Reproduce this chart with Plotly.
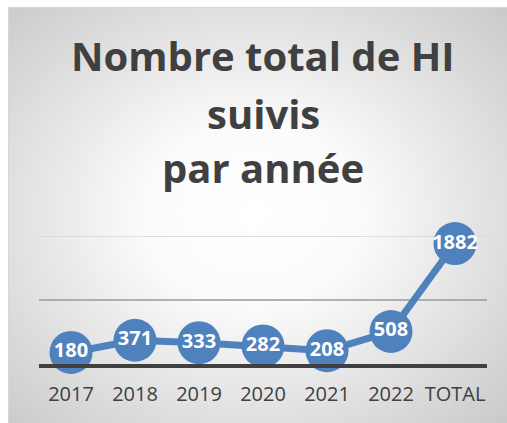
import base64
import plotly.graph_objects as go

categories = ["2017", "2018", "2019", "2020", "2021", "2022", "TOTAL"]
values = [180, 371, 333, 282, 208, 508, 1882]
title_lines = ["Nombre total de HI", "suivis", "par année"]

BLUE = "#4f81bd"
DARK = "#404040"

# figure pixels == screen pixels (body margin removed)
W, H = 507, 423
L, R, T, B = 39, 20, 236, 59
PH = H - T - B
PW = W - L - R
FX0, FY0 = 8, 7  # chart frame top-left


def fy(py):
    return (H - B - py) / PH


def fx(px):
    return (px - L) / PW


FW, FH = W - FX0, H - FY0
svg = f"""<svg xmlns='http://www.w3.org/2000/svg' width='{FW}' height='{FH}' viewBox='0 0 {FW} {FH}' preserveAspectRatio='none'>
<defs><radialGradient id='g' cx='49%' cy='50%' r='72%'>
<stop offset='0' stop-color='#ffffff'/>
<stop offset='0.3' stop-color='#fbfbfb'/>
<stop offset='1' stop-color='#c9c9c9'/>
</radialGradient></defs>
<rect x='0' y='0' width='{FW}' height='{FH}' fill='url(#g)'/>
<line x1='0.5' y1='0' x2='0.5' y2='{FH}' stroke='#d6d6d6' stroke-width='1'/>
<line x1='0' y1='0.5' x2='{FW}' y2='0.5' stroke='#d6d6d6' stroke-width='1'/>
</svg>"""
src = "data:image/svg+xml;base64," + base64.b64encode(svg.encode()).decode()

fig = go.Figure()
fig.add_trace(go.Scatter(
    x=categories, y=values,
    mode="lines+markers+text",
    line=dict(color=BLUE, width=7),
    marker=dict(color=BLUE, size=43),
    text=[str(v) for v in values],
    textposition="middle center",
    textfont=dict(color="white", size=20, family="Open Sans", weight="bold"),
    cliponaxis=False,
    hoverinfo="skip",
))

fig.add_hline(y=1000, line=dict(color="#9a9a9a", width=1.5), layer="below")
fig.add_hline(y=2000, line=dict(color="#d4d4d4", width=1.5), layer="below")

annotations = []
centers = [55, 113, 167]
for line, cy in zip(title_lines, centers):
    annotations.append(dict(
        text=f"<b>{line}</b>", x=fx(263), y=fy(cy),
        xref="paper", yref="paper", xanchor="center", yanchor="middle",
        showarrow=False, font=dict(family="Open Sans", size=40, color=DARK),
    ))

fig.update_layout(
    width=W, height=H,
    margin=dict(l=L, r=R, t=T, b=B),
    paper_bgcolor="white",
    plot_bgcolor="rgba(0,0,0,0)",
    showlegend=False,
    annotations=annotations,
    images=[dict(source=src, xref="paper", yref="paper",
                 x=fx(FX0), y=fy(FY0),
                 sizex=FW / PW, sizey=FH / PH,
                 xanchor="left", yanchor="top", sizing="stretch",
                 layer="below")],
    xaxis=dict(
        type="category", showgrid=False, zeroline=False,
        showline=True, linecolor=DARK, linewidth=4,
        ticks="", tickfont=dict(family="Open Sans", size=20, color=DARK),
        ticklabelstandoff=9,
        range=[-0.5, 6.5], fixedrange=True,
    ),
    yaxis=dict(
        range=[0, 2000], showgrid=False, zeroline=False,
        showticklabels=False, ticks="", fixedrange=True,
    ),
)

fig.write_html(
    "out.html",
    config={"displayModeBar": False},
    post_script="document.body.style.margin='0';"
                "document.documentElement.style.overflow='hidden';",
)
